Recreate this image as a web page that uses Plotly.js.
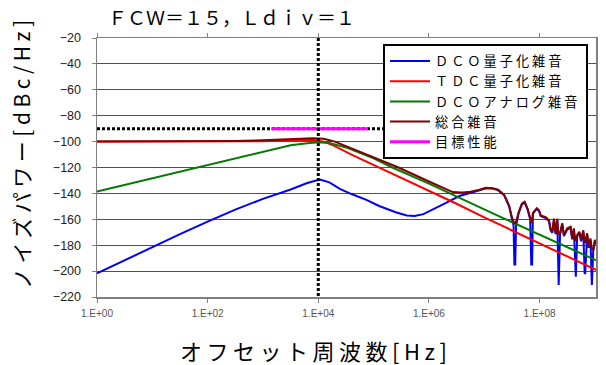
<!DOCTYPE html>
<html><head><meta charset="utf-8">
<script src="https://cdn.plot.ly/plotly-3.0.1.min.js"></script>
<style>
html,body{margin:0;padding:0;background:#fff;}
#chart{width:606px;height:365px;}
.legendtext{letter-spacing:3px;}
.annotation-text{letter-spacing:4.5px;}
</style></head><body><div id="chart"></div>
<script>
// x positions stored as log10(frequency [Hz]); converted to Hz for the log axis
const xTickVals = [1, 1e2, 1e4, 1e6, 1e8];
const xTickText = ['1.E+00', '1.E+02', '1.E+04', '1.E+06', '1.E+08'];
const yTickVals = [-20, -40, -60, -80, -100, -120, -140, -160, -180, -200, -220];

const seriesNames = ['ＤＣＯ量子化雑音', 'ＴＤＣ量子化雑音', 'ＤＣＯアナログ雑音', '総合雑音', '目標性能'];

// DCO quantization noise (blue)
const dcoQLog = [0, 0.5, 1.0, 1.5, 2.0, 2.5, 3.0, 3.5, 3.8, 4.0, 4.03, 4.2, 4.39, 4.6, 4.87, 5.1, 5.4, 5.6, 5.74, 5.9, 6.1, 6.3, 6.55, 6.75, 6.9, 7.03, 7.15, 7.25, 7.36, 7.45, 7.5, 7.53, 7.545, 7.56, 7.575, 7.62, 7.68, 7.73, 7.78, 7.83, 7.85, 7.865, 7.88, 7.92, 7.95, 7.99, 8.02, 8.11, 8.17, 8.2, 8.23, 8.26, 8.29, 8.32, 8.335, 8.345, 8.37, 8.41, 8.44, 8.5, 8.56, 8.59, 8.62, 8.645, 8.655, 8.68, 8.72, 8.75, 8.79, 8.815, 8.825, 8.86, 8.89, 8.92, 8.935, 8.945, 8.97, 9.0, 9.04];
const dcoQDb  = [-201.7, -191.5, -181.5, -171.5, -161.8, -152.5, -144.2, -137, -132, -129.5, -129.3, -131.5, -136.5, -140.5, -145, -149.7, -154.5, -157, -157.5, -156, -152, -147.5, -142, -139.2, -137.7, -136, -136.2, -137.5, -141.5, -150, -159, -165, -195, -195, -165, -155.5, -148.5, -147, -152, -160, -195, -195, -155.5, -153.3, -152, -153.5, -157.5, -159, -161.5, -168.5, -170.5, -160.5, -171.5, -160.5, -210.7, -210.7, -171.5, -164, -173, -168, -166.5, -175.5, -168, -204.3, -204.3, -173, -170.5, -177, -169.5, -201.7, -201.7, -172, -182, -176, -210.7, -210.7, -184.5, -177, -179.5];

// TDC quantization noise (red)
const tdcLog = [0, 1, 2, 3, 3.5, 3.9, 4.1, 4.3, 4.6, 5.0, 5.5, 6.0, 6.5, 7.0, 7.5, 8.0, 8.5, 9.04];
const tdcDb  = [-100, -100, -100, -99.8, -99, -98.6, -100, -103.5, -110, -118, -128, -137.8, -148, -158.5, -168.5, -178.5, -189, -199.5];

// DCO analog noise (green)
const dcoALog = [0, 1, 2, 3, 3.5, 3.8, 4.0, 4.2, 4.5, 5.0, 5.34, 6.0, 6.37, 7.0, 7.39, 8.0, 8.5, 9.04];
const dcoADb  = [-138.5, -128.2, -118, -107.8, -102.8, -101.2, -100.5, -101, -104.5, -113, -120, -132.5, -140, -152.3, -160, -172, -182, -192];

// Total noise (dark red)
const totalLog = [0, 1, 2, 2.5, 3.0, 3.5, 3.9, 4.1, 4.3, 4.5, 5.0, 5.11, 5.45, 6.0, 6.43, 6.6, 6.75, 6.9, 7.03, 7.15, 7.25, 7.36, 7.45, 7.5, 7.53, 7.55, 7.575, 7.62, 7.68, 7.73, 7.78, 7.83, 7.86, 7.88, 7.92, 7.95, 7.99, 8.02, 8.11, 8.17, 8.2, 8.23, 8.26, 8.29, 8.32, 8.34, 8.37, 8.41, 8.44, 8.5, 8.56, 8.59, 8.62, 8.65, 8.68, 8.72, 8.75, 8.79, 8.82, 8.86, 8.89, 8.92, 8.94, 8.97, 9.0, 9.04];
const totalDb  = [-100, -100, -99.8, -99.5, -99, -98, -97.5, -97.8, -100, -103.5, -112, -114.2, -120, -130.8, -139, -139.3, -138.7, -137.4, -135.6, -136, -137.2, -141.2, -149.6, -158.5, -162, -163.5, -162, -155, -148, -146.5, -151.5, -159.5, -163, -155, -152.8, -151.4, -153, -157, -158.3, -160.8, -167.5, -169.8, -159.5, -171, -159.5, -172, -170.8, -163, -172, -167, -165.8, -174.8, -167, -177, -172, -169.6, -176, -168.5, -178.6, -170.8, -181, -174.8, -182, -183.8, -176, -178.6];

// Target performance (magenta) and guide lines (black dotted)
const targetLog = [3.15, 4.9];
const targetDb  = [-90, -90];
const guideHLog = [0, 5.4];
const guideHDb  = [-90, -90];
const guideVLog = [4, 4];
const guideVDb  = [-20, -220];

const toHz = a => a.map(v => Math.pow(10, v));

const traces = [
  {x: toHz(dcoQLog), y: dcoQDb, name: seriesNames[0], mode: 'lines', line: {color: '#0000FF', width: 2}},
  {x: toHz(tdcLog), y: tdcDb, name: seriesNames[1], mode: 'lines', line: {color: '#FF0000', width: 2}},
  {x: toHz(dcoALog), y: dcoADb, name: seriesNames[2], mode: 'lines', line: {color: '#007A00', width: 2}},
  {x: toHz(totalLog), y: totalDb, name: seriesNames[3], mode: 'lines', line: {color: '#800000', width: 2}},
  {x: toHz(guideHLog), y: guideHDb, mode: 'lines', showlegend: false, hoverinfo: 'skip', line: {color: '#000000', width: 3, dash: '3px,2px'}},
  {x: toHz(targetLog), y: targetDb, name: seriesNames[4], mode: 'lines', line: {color: '#FF00FF', width: 3}},
  {x: toHz(guideVLog), y: guideVDb, mode: 'lines', showlegend: false, hoverinfo: 'skip', line: {color: '#000000', width: 3, dash: '3px,2px'}}
];

const layout = {
  width: 606, height: 365,
  margin: {l: 97, r: 10, t: 38, b: 68},
  paper_bgcolor: '#ffffff', plot_bgcolor: '#ffffff',
  showlegend: true,
  title: {text: 'ＦＣＷ＝１５，Ｌｄｉｖ＝１', x: 108/606, xanchor: 'left', xref: 'container', y: 1 - 18/365, yanchor: 'middle', yref: 'container',
          font: {family: 'Noto Sans CJK JP', size: 19, color: '#000'}},
  xaxis: {type: 'log', range: [0, 9.02], tickvals: xTickVals, ticktext: xTickText,
          showgrid: false, zeroline: false, showline: true, linecolor: '#808080', linewidth: 1.5, mirror: 'ticks',
          ticks: 'outside', ticklen: 4, tickcolor: '#808080', ticklabelstandoff: 2,
          tickfont: {family: 'Liberation Sans, Arial', size: 10, color: '#555'}},
  yaxis: {range: [-220, -20], tickvals: yTickVals, showgrid: true, gridcolor: '#505050', gridwidth: 1,
          zeroline: false, showline: true, linecolor: '#808080', linewidth: 1.5, mirror: true,
          ticks: 'outside', ticklen: 4, tickcolor: '#808080', ticklabelstandoff: 8,
          tickfont: {family: 'Liberation Sans, Arial', size: 12.5, color: '#222'}},
  legend: {x: (383-97)/499, y: 1 - (44-38)/259, xanchor: 'left', yanchor: 'top', bgcolor: '#ffffff',
           bordercolor: '#000000', borderwidth: 2, itemwidth: 40, tracegroupgap: 0,
           font: {family: 'Noto Sans CJK JP', size: 13.2, color: '#000'}},
  annotations: [
    {text: 'オフセット周波数[Hz]', xref: 'paper', yref: 'paper', x: (315-97)/499, y: -(350-297)/259,
     xanchor: 'center', yanchor: 'middle', showarrow: false, font: {family: 'Noto Sans CJK JP', size: 22, color: '#000'}},
    {text: 'ノイズパワー[dBc/Hz]', xref: 'paper', yref: 'paper', x: (21-97)/499, y: (297-152)/259, textangle: -90,
     xanchor: 'center', yanchor: 'middle', showarrow: false, font: {family: 'Noto Sans CJK JP', size: 21, color: '#000'}}
  ]
};

Plotly.newPlot('chart', traces, layout, {staticPlot: true, displayModeBar: false});
</script></body></html>
